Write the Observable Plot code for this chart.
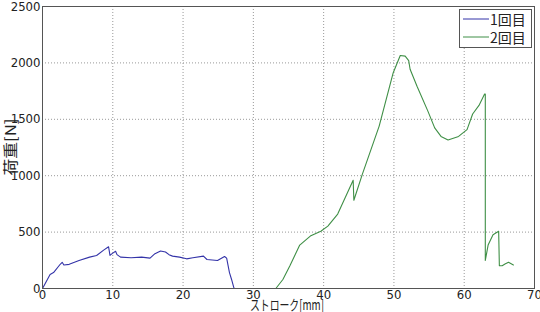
<!DOCTYPE html>
<html><head><meta charset="utf-8">
<script src="https://cdn.jsdelivr.net/npm/d3@7"></script>
<script src="https://cdn.jsdelivr.net/npm/@observablehq/plot@0.6"></script>
<style>
body{margin:0;background:#fff;}
#wrap{position:relative;width:540px;height:312px;overflow:hidden;}
#legend{position:absolute;left:459px;top:9px;width:71px;height:37px;border:1px solid #555;background:#fff;
font-family:"Noto Sans CJK JP",sans-serif;font-size:14px;line-height:18px;color:#222;}
#legend div{display:flex;align-items:center;height:18px;}
#legend svg{margin:0 1px 0 3px;}
</style></head><body>
<div id="wrap"></div>
<script>
const seriesNames = ["1回目", "2回目"];
const seriesColors = ["#3333a8", "#3f8f46"];
const xTicks = [0,10,20,30,40,50,60,70];
const yTicks = [0,500,1000,1500,2000,2500];
const xLabel = "ストローク[mm]";
const yLabel = "荷重[N]";

const run1X = [0,1.08,1.57,2.55,2.8,3.04,3.8,5.2,6.7,7.7,8.7,9.4,9.6,9.9,10.4,10.6,11.1,12.6,14.1,15.3,16.0,16.8,17.5,18.0,18.5,19.5,20.5,21.4,22.9,23.4,24.9,25.9,26.2,26.6,26.9,27.2,27.3];
const run1Y = [0,125,141,217,232,208,214,248,278,293,340,370,293,309,330,300,278,272,278,269,309,333,324,300,287,278,263,272,287,257,248,284,269,141,80,12,0];

const run2X = [27.3,33.2,34.2,35.2,36.6,38.1,39.6,40.6,42.0,44.2,44.3,45.5,47.9,49.9,50.9,51.6,52.1,52.3,53.3,54.8,55.8,56.7,57.7,59.2,60.4,61.2,62.1,62.9,63.0,63.0,63.4,64.1,64.9,65.0,65.4,65.8,66.3,67.0];
const run2Y = [0,0,80,202,385,465,507,553,660,960,782,1012,1440,1913,2066,2060,2020,1944,1791,1577,1424,1348,1317,1348,1409,1547,1623,1724,1724,248,385,477,507,202,202,217,232,208];

const data = [
  ...run1X.map((x,i)=>({x, y: run1Y[i], s: seriesNames[0]})),
  ...run2X.map((x,i)=>({x, y: run2Y[i], s: seriesNames[1]}))
];

const numFont = "'DejaVu Sans',sans-serif";

const chart = Plot.plot({
  width: 540, height: 312,
  marginLeft: 42, marginRight: 6, marginTop: 6, marginBottom: 24,
  style: {fontFamily: numFont, fontSize: "13px", color: "#222", background: "#fff", fontStretch: "condensed"},
  x: {domain: [0,70], ticks: xTicks, label: null, tickFormat: "d"},
  y: {domain: [0,2500], ticks: yTicks, label: null, tickFormat: "d"},
  color: {domain: seriesNames, range: seriesColors},
  marks: [
    Plot.gridX(xTicks, {stroke: "#999", strokeOpacity: 1, strokeDasharray: "1,2"}),
    Plot.gridY(yTicks, {stroke: "#999", strokeOpacity: 1, strokeDasharray: "1,2"}),
    Plot.axisX(xTicks, {tickSize: 0, tickPadding: 1, fontSize: 13, tickFormat: "d"}),
    Plot.axisY(yTicks, {tickSize: 0, tickPadding: 2, fontSize: 13, tickFormat: "d"}),
    Plot.line(data, {x: "x", y: "y", z: "s", stroke: "s", strokeWidth: 1.1}),
    Plot.frame({stroke: "#555"})
  ]
});

const wrap = document.getElementById("wrap");
wrap.appendChild(chart);

const svg = d3.select(chart);
svg.append("text").attr("x", 287).attr("y", 310).attr("text-anchor", "middle")
  .attr("textLength", 74).attr("lengthAdjust", "spacingAndGlyphs")
  .style("font-family", "'Noto Sans CJK JP',sans-serif").style("font-size", "14px").attr("fill","#222").text(xLabel);
svg.append("text").attr("transform", "translate(16,147) rotate(-90)").attr("text-anchor", "middle")
  .attr("textLength", 57).attr("lengthAdjust", "spacingAndGlyphs")
  .style("font-family", "'Noto Sans CJK JP',sans-serif").style("font-size", "15px").attr("fill","#222").text(yLabel);

const leg = document.createElement("div");
leg.id = "legend";
seriesNames.forEach((n,i)=>{
  const row = document.createElement("div");
  row.innerHTML = `<svg width="26" height="4"><line x1="0" x2="26" y1="2" y2="2" stroke="${seriesColors[i]}" stroke-width="1"/></svg><span>${n}</span>`;
  leg.appendChild(row);
});
wrap.appendChild(leg);
</script>
</body></html>
